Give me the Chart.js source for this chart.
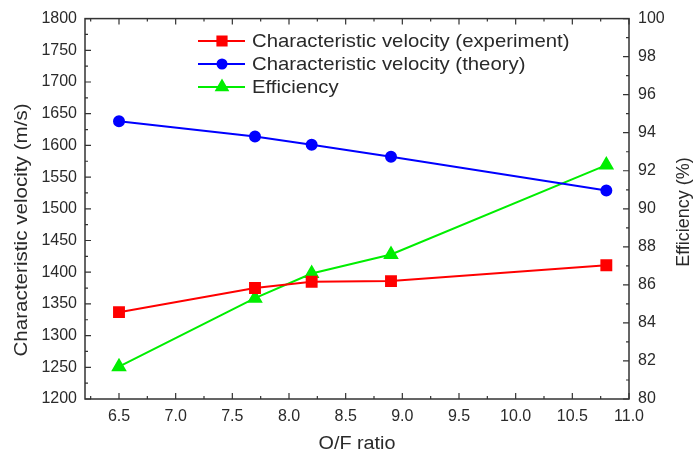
<!DOCTYPE html>
<html>
<head>
<meta charset="utf-8">
<script src="https://cdn.jsdelivr.net/npm/chart.js@4/dist/chart.umd.min.js"></script>
<style>
  html, body { margin: 0; padding: 0; background: #fff; }
  #wrap { width: 693px; height: 456px; }
</style>
</head>
<body>
<div id="wrap"><canvas id="myChart" width="693" height="456"></canvas></div>
<script>
// data
var ofRatio = [6.5, 7.7, 8.2, 8.9, 10.8];
var velExperiment = [1337, 1375, 1385, 1386, 1411];
var velTheory = [1638, 1614, 1601, 1582, 1529];
var efficiency = [81.7, 85.3, 86.6, 87.6, 92.3];

var xTicks = [6.5, 7.0, 7.5, 8.0, 8.5, 9.0, 9.5, 10.0, 10.5, 11.0];
var velTicks = [1200, 1250, 1300, 1350, 1400, 1450, 1500, 1550, 1600, 1650, 1700, 1750, 1800];
var effTicks = [80, 82, 84, 86, 88, 90, 92, 94, 96, 98, 100];

var FONT = '"Liberation Sans", Arial, sans-serif';
var TXT = '#2a2a2a';

function pts(xs, ys) {
    var out = [];
    for (var i = 0; i < xs.length; i++) out.push({x: xs[i], y: ys[i]});
    return out;
}

function setTicks(list) {
    return function(scale) {
        scale.ticks = list.map(function(v) { return {value: v}; });
    };
}

// text a little wider than the font, like the original scan
function wideText(ctx, s, x, y, rot, sx) {
    ctx.save();
    ctx.translate(x, y);
    ctx.rotate(rot);
    ctx.scale(sx, 1);
    ctx.fillText(s, 0, 0);
    ctx.restore();
}

// ticks pointing inward, minor ticks, frame, axis titles and legend
var decor = {
    id: 'decor',
    afterDraw: function(chart) {
        var ctx = chart.ctx;
        var a = chart.chartArea;
        var x = chart.scales.x, yl = chart.scales.y, yr = chart.scales.y1;
        ctx.save();
        ctx.strokeStyle = '#333';
        ctx.lineWidth = 1.5;
        ctx.strokeRect(a.left, a.top, a.right - a.left, a.bottom - a.top);
        ctx.lineWidth = 1.2;
        ctx.beginPath();
        // x ticks on bottom and top
        for (var v = 6.25; v <= 11.001; v += 0.25) {
            var px = x.getPixelForValue(v);
            var major = Math.abs(v * 2 - Math.round(v * 2)) < 1e-6;
            var len = major ? 6 : 3;
            ctx.moveTo(px, a.bottom); ctx.lineTo(px, a.bottom - len);
            ctx.moveTo(px, a.top); ctx.lineTo(px, a.top + len);
        }
        for (var w = 1200; w <= 1800; w += 25) {
            var py = yl.getPixelForValue(w);
            var l = (w % 50 === 0) ? 6 : 3;
            ctx.moveTo(a.left, py); ctx.lineTo(a.left + l, py);
        }
        for (var e = 80; e <= 100; e += 1) {
            var py2 = yr.getPixelForValue(e);
            var l2 = (e % 2 === 0) ? 6 : 3;
            ctx.moveTo(a.right, py2); ctx.lineTo(a.right - l2, py2);
        }
        ctx.stroke();

        // axis titles
        ctx.fillStyle = TXT;
        ctx.textAlign = 'center';
        ctx.textBaseline = 'middle';
        ctx.font = '18px ' + FONT;
        wideText(ctx, 'O/F ratio', (a.left + a.right) / 2, 444, 0, 1.1);
        ctx.font = '19px ' + FONT;
        wideText(ctx, 'Characteristic velocity (m/s)', 22, 230, -Math.PI / 2, 1.085);
        ctx.font = '18px ' + FONT;
        wideText(ctx, 'Efficiency (%)', 684, 212, -Math.PI / 2, 1);

        // legend
        var rows = [41, 64, 87];
        ctx.font = '19px ' + FONT;
        chart.data.datasets.forEach(function(ds, i) {
            var y = rows[i];
            ctx.strokeStyle = ds.borderColor;
            ctx.lineWidth = 2;
            ctx.beginPath();
            ctx.moveTo(198, y); ctx.lineTo(245, y);
            ctx.stroke();
            Chart.helpers.drawPoint(ctx, {
                pointStyle: ds.pointStyle,
                radius: ds.pointRadius - 0.5,
                rotation: 0,
                borderWidth: 1
            }, 222, y);
            ctx.fillStyle = ds.borderColor;
            ctx.fill();
            ctx.fillStyle = TXT;
            ctx.textAlign = 'left';
            wideText(ctx, ds.label, 252, y + 1, 0, 1.07);
        });
        ctx.restore();
    }
};

var tickFont = {family: FONT, size: 16};
var plain = function(v) { return String(v); };

var ctx = document.getElementById('myChart').getContext('2d');
var myChart = new Chart(ctx, {
    type: 'line',
    data: {
        datasets: [
            {
                label: 'Characteristic velocity (experiment)',
                data: pts(ofRatio, velExperiment),
                yAxisID: 'y',
                borderColor: '#ff0000',
                backgroundColor: '#ff0000',
                pointStyle: 'rect',
                pointRadius: 7,
                borderWidth: 2
            },
            {
                label: 'Characteristic velocity (theory)',
                data: pts(ofRatio, velTheory),
                yAxisID: 'y',
                borderColor: '#0000ff',
                backgroundColor: '#0000ff',
                pointStyle: 'circle',
                pointRadius: 5,
                borderWidth: 2
            },
            {
                label: 'Efficiency',
                data: pts(ofRatio, efficiency),
                yAxisID: 'y1',
                borderColor: '#00ee00',
                backgroundColor: '#00ee00',
                pointStyle: 'triangle',
                pointRadius: 7,
                borderWidth: 2
            }
        ]
    },
    options: {
        responsive: false,
        animation: false,
        layout: {padding: {top: 14, left: 0, right: 0, bottom: 0}},
        plugins: {legend: {display: false}, tooltip: {enabled: false}},
        scales: {
            x: {
                type: 'linear',
                min: 6.2, max: 11.0,
                afterBuildTicks: setTicks(xTicks),
                afterFit: function(s) { s.height = 57; },
                grid: {display: false, drawTicks: false},
                border: {display: false},
                ticks: {
                    font: tickFont, color: TXT, padding: 8,
                    maxRotation: 0, autoSkip: false,
                    callback: function(v) { return v.toFixed(1); }
                }
            },
            y: {
                position: 'left',
                min: 1200, max: 1800,
                afterBuildTicks: setTicks(velTicks),
                afterFit: function(s) { s.width = 85; },
                grid: {display: false, drawTicks: false},
                border: {display: false},
                ticks: {font: tickFont, color: TXT, padding: 8, autoSkip: false, callback: plain}
            },
            y1: {
                position: 'right',
                min: 80, max: 100,
                afterBuildTicks: setTicks(effTicks),
                afterFit: function(s) { s.width = 64; },
                grid: {display: false, drawTicks: false},
                border: {display: false},
                ticks: {font: tickFont, color: TXT, padding: 9, autoSkip: false, callback: plain}
            }
        }
    },
    plugins: [decor]
});
</script>
</body>
</html>
